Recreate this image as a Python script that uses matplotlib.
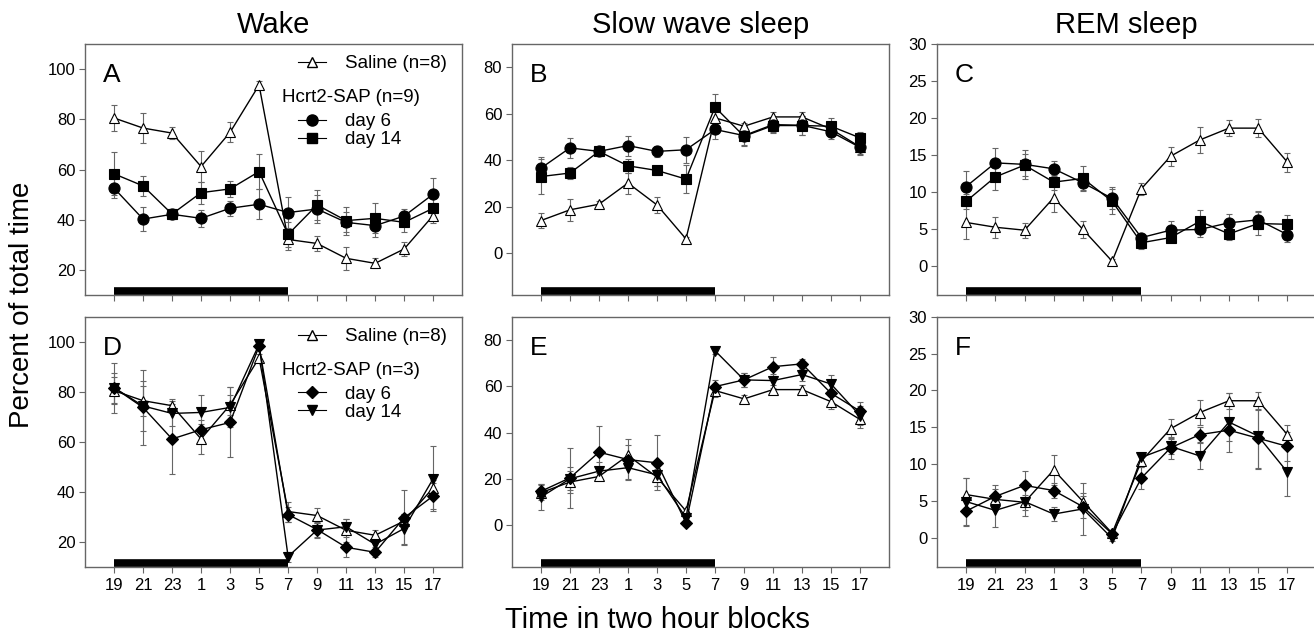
import matplotlib.pyplot as plt
from matplotlib.lines import Line2D

plt.rcParams['font.family'] = ['Liberation Sans', 'DejaVu Sans']

# bloques de dos horas
horas = ['19', '21', '23', '1', '3', '5', '7', '9', '11', '13', '15', '17']

# Vigilia
wake_sal = [80.5, 76.5, 74.5, 61.2, 74.8, 93.6, 32.2, 30.6, 24.7, 22.7, 28.4, 41.7]
wake_sal_err = [5.3, 6.0, 2.5, 6.0, 4.0, 1.5, 4.0, 3.0, 4.6, 2.0, 2.7, 3.0]
wake_d6 = [52.6, 40.3, 42.2, 40.6, 44.6, 46.2, 42.9, 44.3, 39.0, 37.7, 41.5, 50.2]
wake_d6_err = [4.0, 4.7, 2.0, 3.5, 3.0, 6.0, 6.0, 5.5, 4.0, 4.5, 3.0, 6.4]
wake_d14 = [58.3, 53.5, 42.3, 50.8, 52.3, 59.2, 34.2, 45.9, 39.7, 40.6, 39.0, 44.6]
wake_d14_err = [8.6, 4.0, 2.0, 4.4, 3.3, 7.0, 5.0, 6.0, 5.6, 6.0, 4.0, 4.0]

wake3_d6 = [81.7, 73.8, 61.2, 64.9, 67.8, 98.3, 31.0, 25.0, 17.9, 15.9, 29.7, 38.4]
wake3_d6_err = [10.0, 15.0, 14.0, 4.0, 14.0, 1.0, 3.0, 3.0, 4.0, 2.0, 11.0, 5.0]
wake3_d14 = [81.7, 74.4, 71.4, 71.8, 73.8, 99.0, 14.2, 24.8, 26.1, 19.1, 25.4, 45.3]
wake3_d14_err = [6.0, 10.0, 5.0, 7.0, 8.0, 1.0, 2.0, 3.0, 3.0, 3.0, 6.0, 13.0]

# Sueño de ondas lentas
sws_sal = [14.1, 18.7, 21.1, 30.2, 20.8, 6.2, 58.2, 54.6, 58.6, 58.6, 53.4, 45.7]
sws_sal_err = [3.2, 4.6, 1.5, 4.5, 3.6, 1.0, 3.0, 1.5, 2.0, 2.0, 3.0, 3.5]
sws_d6 = [36.6, 45.3, 43.8, 46.3, 43.8, 44.5, 53.2, 50.6, 55.3, 55.0, 52.2, 45.5]
sws_d6_err = [5.0, 4.3, 2.0, 4.3, 2.5, 5.5, 4.0, 4.0, 3.0, 4.0, 3.0, 3.0]
sws_d14 = [33.0, 34.5, 43.8, 37.6, 35.6, 31.9, 62.8, 50.3, 54.9, 54.9, 54.6, 49.6]
sws_d14_err = [7.5, 2.5, 2.0, 3.0, 2.0, 6.0, 5.7, 4.0, 3.0, 4.0, 3.5, 2.5]

sws3_d6 = [14.7, 20.5, 31.6, 28.4, 27.0, 1.1, 59.9, 62.8, 68.5, 69.7, 57.0, 49.3]
sws3_d6_err = [3.0, 13.0, 11.5, 9.0, 11.8, 1.0, 3.0, 3.0, 4.0, 2.0, 4.0, 4.0]
sws3_d14 = [12.2, 20.1, 23.4, 24.9, 21.8, 3.3, 75.4, 62.8, 62.5, 65.1, 61.0, 47.4]
sws3_d14_err = [5.7, 5.0, 4.0, 5.0, 5.0, 1.0, 1.5, 3.0, 3.0, 3.0, 4.0, 4.0]

# Sueño REM
rem_sal = [5.85, 5.2, 4.8, 9.2, 4.9, 0.6, 10.4, 14.8, 17.0, 18.6, 18.6, 14.0]
rem_sal_err = [2.2, 1.4, 1.0, 2.0, 1.2, 0.3, 0.8, 1.3, 1.7, 1.1, 1.2, 1.3]
rem_d6 = [10.7, 13.9, 13.7, 13.1, 11.2, 9.1, 3.8, 4.8, 4.9, 5.8, 6.2, 4.2]
rem_d6_err = [2.1, 2.0, 2.0, 1.0, 1.0, 1.5, 0.5, 1.2, 1.0, 1.2, 1.2, 1.0]
rem_d14 = [8.7, 12.0, 13.6, 11.3, 11.8, 8.7, 3.1, 3.8, 6.0, 4.3, 5.7, 5.6]
rem_d14_err = [1.0, 1.7, 1.5, 1.0, 1.7, 1.7, 0.8, 0.5, 1.5, 0.8, 1.5, 1.2]

rem3_d6 = [3.6, 5.6, 7.1, 6.4, 4.2, 0.5, 8.1, 12.2, 14.0, 14.6, 13.5, 12.4]
rem3_d6_err = [2.0, 1.5, 2.0, 1.0, 1.5, 0.3, 1.5, 1.5, 1.0, 1.5, 4.0, 2.0]
rem3_d14 = [4.9, 3.7, 4.9, 3.2, 3.9, -0.1, 10.9, 12.4, 11.1, 15.7, 13.8, 8.9]
rem3_d14_err = [3.2, 2.2, 2.0, 1.0, 3.5, 0.3, 0.5, 1.0, 1.8, 4.0, 4.5, 3.3]

x = list(range(len(horas)))

fig = plt.figure(figsize=(13.14, 6.35), dpi=100)

cols = [(0.0647, 0.287), (0.3896, 0.287), (0.713, 0.289)]
rows = [(0.535, 0.396), (0.107, 0.394)]


def serie(ax, y, err, marker, face, ms):
    ax.errorbar(x, y, yerr=err, fmt='none', ecolor='0.4', elinewidth=0.8,
                capsize=2, capthick=0.8, zorder=2)
    ax.plot(x, y, color='black', lw=1, marker=marker, ms=ms,
            markerfacecolor=face, markeredgecolor='black', markeredgewidth=0.8,
            zorder=3)


def panel(ax, letra, ylim, yticks, series, abajo):
    for s in series:
        serie(ax, *s)
    ax.set_xlim(-1, 12)
    ax.set_ylim(*ylim)
    ax.set_yticks(yticks)
    ax.set_xticks(x)
    if abajo:
        ax.set_xticklabels(horas)
    else:
        ax.set_xticklabels([])
    ax.tick_params(direction='out', length=4, width=0.8, color='0.4',
                   labelsize=12, pad=3)
    ax.tick_params(axis='x', pad=4)
    for sp in ax.spines.values():
        sp.set_color('0.4')
        sp.set_linewidth(1)
    # barra de oscuridad
    ax.hlines(0.018, 0, 6, transform=ax.get_xaxis_transform(), colors='black',
              lw=5.5, zorder=4)
    ax.text(0.048, 0.925, letra, transform=ax.transAxes, fontsize=19,
            va='top', ha='left')


def leyenda(ax, n, m6, m14, ms6, ms14):
    h1 = [Line2D([], [], color='black', lw=0.8, marker='^', ms=7,
                 markerfacecolor='white', markeredgecolor='black')]
    l1 = ax.legend(h1, ['Saline (n=8)'], loc='center left',
                   bbox_to_anchor=(0.565, 0.92), frameon=False, fontsize=13.5,
                   handlelength=1.5, handletextpad=1.0, borderpad=0,
                   borderaxespad=0)
    ax.add_artist(l1)
    ax.text(0.522, 0.785, 'Hcrt2-SAP (n=%d)' % n, transform=ax.transAxes,
            fontsize=13.5, va='center')
    h2 = [Line2D([], [], color='black', lw=0.8, marker=m6, ms=ms6,
                 markerfacecolor='black'),
          Line2D([], [], color='black', lw=0.8, marker=m14, ms=ms14,
                 markerfacecolor='black')]
    ax.legend(h2, ['day 6', 'day 14'], loc='center left',
              bbox_to_anchor=(0.565, 0.655), frameon=False, fontsize=13.5,
              handlelength=1.5, handletextpad=1.0, labelspacing=0.05,
              borderpad=0, borderaxespad=0)


axs = [[fig.add_axes([c[0], r[0], c[1], r[1]]) for c in cols] for r in rows]

panel(axs[0][0], 'A', (10, 110), [20, 40, 60, 80, 100],
      [(wake_sal, wake_sal_err, '^', 'white', 7.5),
       (wake_d6, wake_d6_err, 'o', 'black', 8),
       (wake_d14, wake_d14_err, 's', 'black', 6.5)], False)
panel(axs[0][1], 'B', (-18, 90), [0, 20, 40, 60, 80],
      [(sws_sal, sws_sal_err, '^', 'white', 7.5),
       (sws_d6, sws_d6_err, 'o', 'black', 8),
       (sws_d14, sws_d14_err, 's', 'black', 6.5)], False)
panel(axs[0][2], 'C', (-4, 30), [0, 5, 10, 15, 20, 25, 30],
      [(rem_sal, rem_sal_err, '^', 'white', 7.5),
       (rem_d6, rem_d6_err, 'o', 'black', 8),
       (rem_d14, rem_d14_err, 's', 'black', 6.5)], False)

panel(axs[1][0], 'D', (10, 110), [20, 40, 60, 80, 100],
      [(wake_sal, wake_sal_err, '^', 'white', 7.5),
       (wake3_d6, wake3_d6_err, 'D', 'black', 6.5),
       (wake3_d14, wake3_d14_err, 'v', 'black', 7.5)], True)
panel(axs[1][1], 'E', (-18, 90), [0, 20, 40, 60, 80],
      [(sws_sal, sws_sal_err, '^', 'white', 7.5),
       (sws3_d6, sws3_d6_err, 'D', 'black', 6.5),
       (sws3_d14, sws3_d14_err, 'v', 'black', 7.5)], True)
panel(axs[1][2], 'F', (-4, 30), [0, 5, 10, 15, 20, 25, 30],
      [(rem_sal, rem_sal_err, '^', 'white', 7.5),
       (rem3_d6, rem3_d6_err, 'D', 'black', 6.5),
       (rem3_d14, rem3_d14_err, 'v', 'black', 7.5)], True)

leyenda(axs[0][0], 9, 'o', 's', 8, 6.5)
leyenda(axs[1][0], 3, 'D', 'v', 6.5, 7.5)

for ax, t in zip(axs[0], ['Wake', 'Slow wave sleep', 'REM sleep']):
    ax.set_title(t, fontsize=21, pad=8)

fig.text(0.017, 0.52, 'Percent of total time', rotation=90, fontsize=20,
         va='center', ha='center')
fig.text(0.5, 0.024, 'Time in two hour blocks', fontsize=21, ha='center',
         va='center')

fig.savefig('out.png', dpi=100)
